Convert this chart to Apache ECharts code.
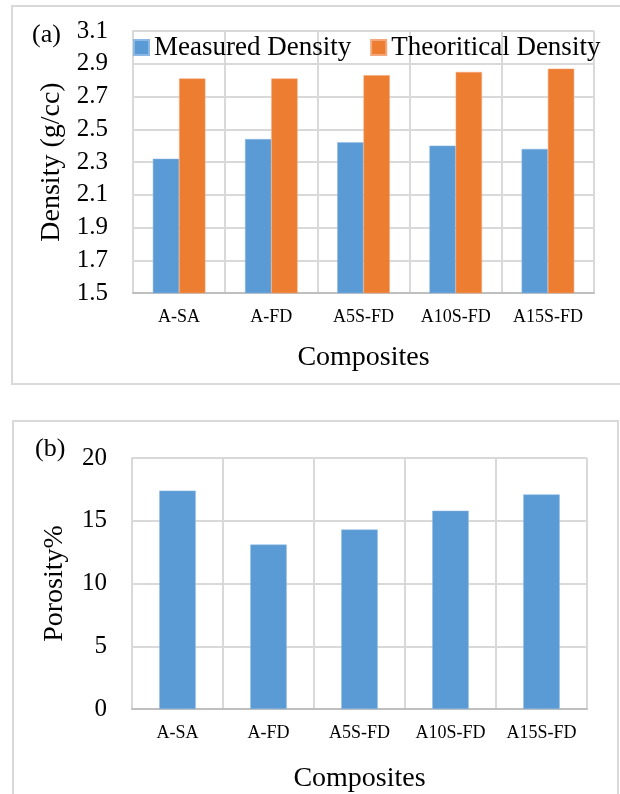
<!DOCTYPE html>
<html>
<head>
<meta charset="utf-8">
<script src="https://cdn.jsdelivr.net/npm/echarts@6/dist/echarts.min.js"></script>
<style>
html,body{margin:0;padding:0;background:#fff;}
#chart{width:620px;height:794px;}
</style>
</head>
<body>
<div id="chart"></div>
<script>
// ---- data ----
var categories = ['A-SA', 'A-FD', 'A5S-FD', 'A10S-FD', 'A15S-FD'];
var measuredDensity = [2.32, 2.44, 2.42, 2.40, 2.38];
var theoreticalDensity = [2.81, 2.81, 2.83, 2.85, 2.87];
var porosity = [17.4, 13.1, 14.3, 15.8, 17.1];
var seriesNames = ['Measured Density', 'Theoritical Density'];
var densityAxisName = 'Density (g/cc)';
var porosityAxisName = 'Porosity%';
var xAxisName = 'Composites';

var FONT = 'Liberation Serif';
var BLUE = '#5B9BD5';
var ORANGE = '#ED7D31';
var GRID = '#d9d9d9';
var TEXT = '#000';

var chart = echarts.init(document.getElementById('chart'), null, {renderer: 'canvas'});

function catAxis(gridIndex, nameGap) {
  return {
    type: 'category', gridIndex: gridIndex, data: categories,
    name: xAxisName, nameLocation: 'middle', nameGap: nameGap,
    nameTextStyle: {fontFamily: FONT, fontSize: 28, color: TEXT},
    axisLine: {show: true, lineStyle: {color: '#bfbfbf', width: 2}},
    axisTick: {show: false},
    axisLabel: {fontFamily: FONT, fontSize: 18, color: TEXT, margin: 15, interval: 0},
    splitLine: {show: true, interval: 0, lineStyle: {color: GRID, width: 2}}
  };
}

var option = {
  animation: false,
  backgroundColor: '#fff',
  textStyle: {fontFamily: FONT},
  graphic: [
    {type: 'rect', shape: {x: 12, y: 6, width: 620, height: 378}, style: {fill: 'none', stroke: GRID, lineWidth: 2}, z: -1},
    {type: 'rect', shape: {x: 13, y: 421, width: 605, height: 400}, style: {fill: 'none', stroke: GRID, lineWidth: 2}, z: -1},
    {type: 'text', left: 32, top: 22, style: {text: '(a)', font: '26px "Liberation Serif"', fill: TEXT}},
    {type: 'text', left: 35, top: 436, style: {text: '(b)', font: '26px "Liberation Serif"', fill: TEXT}}
  ],
  legend: {
    data: seriesNames,
    left: 128, top: 29, width: 520,
    orient: 'horizontal',
    itemWidth: 15, itemHeight: 15, itemGap: 19,
    icon: 'rect',
    textStyle: {fontFamily: FONT, fontSize: 27, color: TEXT}
  },
  grid: [
    {left: 133, right: 26, top: 31, height: 262, containLabel: false},
    {left: 132, right: 33, top: 458, height: 252, containLabel: false}
  ],
  xAxis: [catAxis(0, 51), catAxis(1, 56)],
  yAxis: [
    {
      type: 'value', gridIndex: 0, min: 1.5, max: 3.1, interval: 0.2,
      name: densityAxisName, nameLocation: 'middle', nameGap: 66,
      nameTextStyle: {fontFamily: FONT, fontSize: 28, color: TEXT},
      axisLine: {show: true, lineStyle: {color: GRID, width: 2}},
      axisTick: {show: false},
      axisLabel: {fontFamily: FONT, fontSize: 25, color: TEXT, margin: 25,
        formatter: function (v) { return v.toFixed(1); }},
      splitLine: {show: true, lineStyle: {color: GRID, width: 2}}
    },
    {
      type: 'value', gridIndex: 1, min: 0, max: 20, interval: 5,
      name: porosityAxisName, nameLocation: 'middle', nameGap: 63,
      nameTextStyle: {fontFamily: FONT, fontSize: 28, color: TEXT},
      axisLine: {show: true, lineStyle: {color: GRID, width: 2}},
      axisTick: {show: false},
      axisLabel: {fontFamily: FONT, fontSize: 25, color: TEXT, margin: 25},
      splitLine: {show: true, lineStyle: {color: GRID, width: 2}}
    }
  ],
  series: [
    {
      name: seriesNames[0], type: 'bar', xAxisIndex: 0, yAxisIndex: 0,
      data: measuredDensity, barGap: '0%', barCategoryGap: '43%',
      itemStyle: {color: BLUE, borderColor: '#8db8e3', borderWidth: 0.5}
    },
    {
      name: seriesNames[1], type: 'bar', xAxisIndex: 0, yAxisIndex: 0,
      data: theoreticalDensity, barGap: '0%', barCategoryGap: '43%',
      itemStyle: {color: ORANGE, borderColor: '#f4a77a', borderWidth: 0.5}
    },
    {
      name: 'Porosity', type: 'bar', xAxisIndex: 1, yAxisIndex: 1,
      data: porosity, barCategoryGap: '60%',
      itemStyle: {color: BLUE, borderColor: '#8db8e3', borderWidth: 0.5}
    }
  ]
};
chart.setOption(option);
</script>
</body>
</html>
